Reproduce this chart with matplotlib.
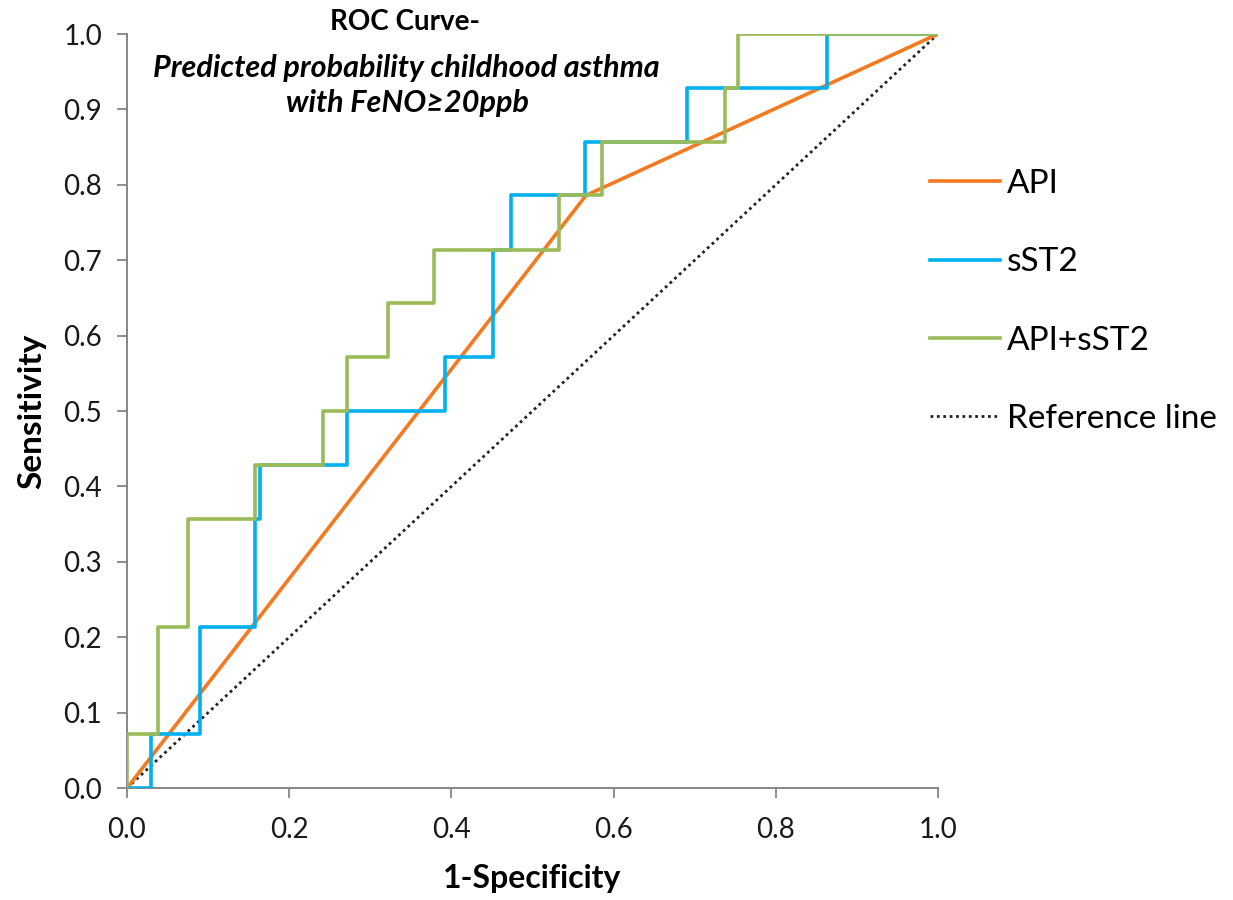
import matplotlib
matplotlib.use("Agg")
import matplotlib.pyplot as plt

plt.rcParams['font.family'] = ['Lato', 'DejaVu Sans']

# ROC points (1-specificity, sensitivity)
api_fpr = [0.0, 0.566, 1.0]
api_tpr = [0.0, 0.786, 1.0]

sst2_fpr = [0.0, 0.029, 0.090, 0.158, 0.164, 0.271, 0.392, 0.451, 0.473, 0.565, 0.690, 0.863, 1.0]
sst2_tpr = [0.0, 0.0714, 0.214, 0.357, 0.429, 0.5, 0.571, 0.714, 0.786, 0.857, 0.929, 1.0, 1.0]

combo_fpr = [0.0, 0.0, 0.0386, 0.0757, 0.158, 0.242, 0.271, 0.322, 0.378, 0.533, 0.586, 0.737, 0.753, 1.0]
combo_tpr = [0.0, 0.0714, 0.214, 0.357, 0.429, 0.5, 0.571, 0.643, 0.714, 0.786, 0.857, 0.929, 1.0, 1.0]

ref_x = [0.0, 1.0]
ref_y = [0.0, 1.0]

x_ticks = [0.0, 0.2, 0.4, 0.6, 0.8, 1.0]
y_ticks = [0.0, 0.1, 0.2, 0.3, 0.4, 0.5, 0.6, 0.7, 0.8, 0.9, 1.0]

fig = plt.figure(figsize=(12.33, 9), dpi=100)
ax = fig.add_axes([0.103, 0.1244, 0.6577, 0.8378])

ax.plot(api_fpr, api_tpr, color='#F47A20', lw=2.6, label='API', zorder=3)
ax.plot(sst2_fpr, sst2_tpr, color='#00B0F0', lw=2.6, drawstyle='steps-post', label='sST2', zorder=4)
ax.plot(combo_fpr, combo_tpr, color='#9BBB59', lw=2.6, drawstyle='steps-post', label='API+sST2', zorder=5)
ax.plot(ref_x, ref_y, color='#222222', lw=2.0, linestyle=(0, (1, 1.3)), label='Reference line', zorder=2)

ax.set_xlim(0, 1)
ax.set_ylim(0, 1)
ax.set_xticks(x_ticks)
ax.set_yticks(y_ticks)
ax.set_xticklabels([f'{v:.1f}' for v in x_ticks])
ax.set_yticklabels([f'{v:.1f}' for v in y_ticks])
ax.tick_params(axis='both', labelsize=20, colors='#868686', labelcolor='#1a1a1a',
               length=7, width=1.3, direction='out')
ax.tick_params(axis='x', pad=14)
ax.tick_params(axis='y', pad=11)
for side in ['top', 'right']:
    ax.spines[side].set_visible(False)
for side in ['left', 'bottom']:
    ax.spines[side].set_color('#868686')
    ax.spines[side].set_linewidth(1.4)

ax.set_xlabel('1-Specificity', fontsize=23, fontweight='bold', labelpad=15)
ax.set_ylabel('Sensitivity', fontsize=24, fontweight='bold', labelpad=12)

ax.text(0.343, 1.016, 'ROC Curve-', transform=ax.transAxes, ha='center', va='center',
        fontsize=20, fontweight='bold')
ax.text(0.344, 0.955, 'Predicted probability childhood asthma', transform=ax.transAxes,
        ha='center', va='center', fontsize=22, fontweight='bold', fontstyle='italic')
ax.text(0.346, 0.908, 'with FeNO\u226520ppb', transform=ax.transAxes,
        ha='center', va='center', fontsize=22, fontweight='bold', fontstyle='italic')

fig.legend(loc='center left', bbox_to_anchor=(0.730, 0.665), frameon=False,
           fontsize=24, handlelength=2.1, handletextpad=0.2, labelspacing=1.45)

fig.savefig('out.png', dpi=100)
